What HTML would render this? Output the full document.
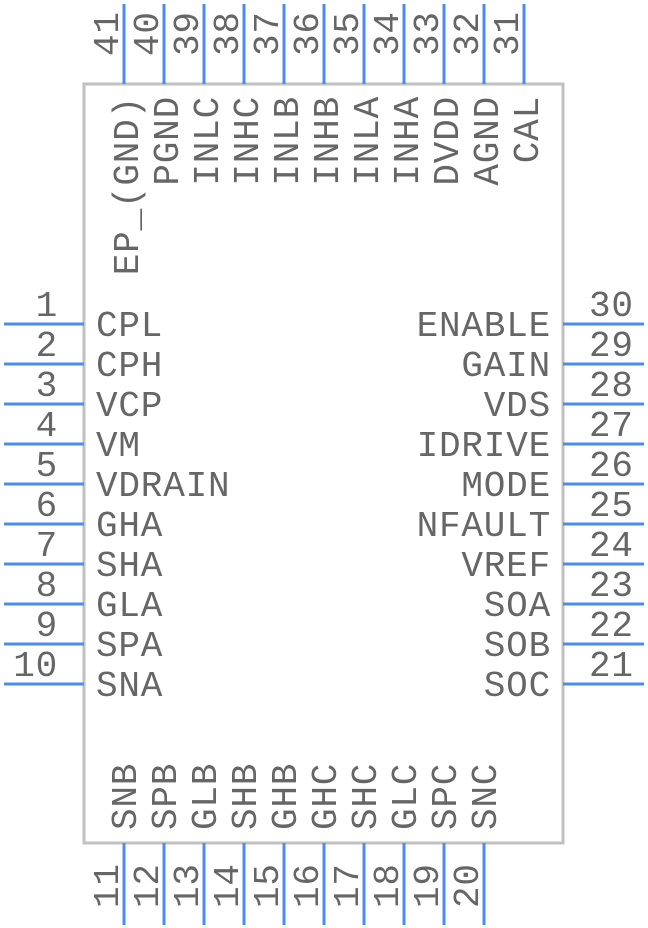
<!DOCTYPE html>
<html><head><style>
html,body{margin:0;padding:0;background:#fff;}
svg{display:block;}
text{font-family:"Liberation Mono",monospace;font-size:36px;letter-spacing:0.8px;fill:#666;}
</style></head><body>
<svg width="648" height="928" viewBox="0 0 648 928" xmlns="http://www.w3.org/2000/svg">
<rect x="84" y="84" width="479" height="759" fill="none" stroke="#c0c0c0" stroke-width="3"/>
<g stroke="#4a8cf5" stroke-width="3">
<line x1="4" y1="324" x2="84" y2="324"/><line x1="4" y1="364" x2="84" y2="364"/><line x1="4" y1="404" x2="84" y2="404"/><line x1="4" y1="444" x2="84" y2="444"/><line x1="4" y1="484" x2="84" y2="484"/><line x1="4" y1="524" x2="84" y2="524"/><line x1="4" y1="564" x2="84" y2="564"/><line x1="4" y1="604" x2="84" y2="604"/><line x1="4" y1="644" x2="84" y2="644"/><line x1="4" y1="684" x2="84" y2="684"/>
<line x1="563" y1="324" x2="644" y2="324"/><line x1="563" y1="364" x2="644" y2="364"/><line x1="563" y1="404" x2="644" y2="404"/><line x1="563" y1="444" x2="644" y2="444"/><line x1="563" y1="484" x2="644" y2="484"/><line x1="563" y1="524" x2="644" y2="524"/><line x1="563" y1="564" x2="644" y2="564"/><line x1="563" y1="604" x2="644" y2="604"/><line x1="563" y1="644" x2="644" y2="644"/><line x1="563" y1="684" x2="644" y2="684"/>
<line x1="124" y1="4" x2="124" y2="84"/><line x1="164" y1="4" x2="164" y2="84"/><line x1="204" y1="4" x2="204" y2="84"/><line x1="244" y1="4" x2="244" y2="84"/><line x1="284" y1="4" x2="284" y2="84"/><line x1="324" y1="4" x2="324" y2="84"/><line x1="364" y1="4" x2="364" y2="84"/><line x1="404" y1="4" x2="404" y2="84"/><line x1="444" y1="4" x2="444" y2="84"/><line x1="484" y1="4" x2="484" y2="84"/><line x1="524" y1="4" x2="524" y2="84"/>
<line x1="124" y1="843" x2="124" y2="925"/><line x1="164" y1="843" x2="164" y2="925"/><line x1="204" y1="843" x2="204" y2="925"/><line x1="244" y1="843" x2="244" y2="925"/><line x1="284" y1="843" x2="284" y2="925"/><line x1="324" y1="843" x2="324" y2="925"/><line x1="364" y1="843" x2="364" y2="925"/><line x1="404" y1="843" x2="404" y2="925"/><line x1="444" y1="843" x2="444" y2="925"/><line x1="484" y1="843" x2="484" y2="925"/>
</g>
<g text-anchor="end">
<text x="58" y="316">1</text><text x="58" y="356">2</text><text x="58" y="396">3</text><text x="58" y="436">4</text><text x="58" y="476">5</text><text x="58" y="516">6</text><text x="58" y="556">7</text><text x="58" y="596">8</text><text x="58" y="636">9</text><text x="58" y="676">10</text>
<text x="551" y="336">ENABLE</text><text x="551" y="376">GAIN</text><text x="551" y="416">VDS</text><text x="551" y="456">IDRIVE</text><text x="551" y="496">MODE</text><text x="551" y="536">NFAULT</text><text x="551" y="576">VREF</text><text x="551" y="616">SOA</text><text x="551" y="656">SOB</text><text x="551" y="696">SOC</text>
</g>
<g>
<text x="96" y="336">CPL</text><text x="96" y="376">CPH</text><text x="96" y="416">VCP</text><text x="96" y="456">VM</text><text x="96" y="496">VDRAIN</text><text x="96" y="536">GHA</text><text x="96" y="576">SHA</text><text x="96" y="616">GLA</text><text x="96" y="656">SPA</text><text x="96" y="696">SNA</text>
<text x="589" y="316">30</text><text x="589" y="356">29</text><text x="589" y="396">28</text><text x="589" y="436">27</text><text x="589" y="476">26</text><text x="589" y="516">25</text><text x="589" y="556">24</text><text x="589" y="596">23</text><text x="589" y="636">22</text><text x="589" y="676">21</text>
</g>
<g>
<text transform="translate(118,56) rotate(-90)">41</text>
<text transform="translate(158,56) rotate(-90)">40</text>
<text transform="translate(198,56) rotate(-90)">39</text>
<text transform="translate(238,56) rotate(-90)">38</text>
<text transform="translate(278,56) rotate(-90)">37</text>
<text transform="translate(318,56) rotate(-90)">36</text>
<text transform="translate(358,56) rotate(-90)">35</text>
<text transform="translate(398,56) rotate(-90)">34</text>
<text transform="translate(438,56) rotate(-90)">33</text>
<text transform="translate(478,56) rotate(-90)">32</text>
<text transform="translate(518,56) rotate(-90)">31</text>
</g>
<g text-anchor="end">
<text transform="translate(138,96) rotate(-90)">EP_(GND)</text>
<text transform="translate(178,96) rotate(-90)">PGND</text>
<text transform="translate(218,96) rotate(-90)">INLC</text>
<text transform="translate(258,96) rotate(-90)">INHC</text>
<text transform="translate(298,96) rotate(-90)">INLB</text>
<text transform="translate(338,96) rotate(-90)">INHB</text>
<text transform="translate(378,96) rotate(-90)">INLA</text>
<text transform="translate(418,96) rotate(-90)">INHA</text>
<text transform="translate(458,96) rotate(-90)">DVDD</text>
<text transform="translate(498,96) rotate(-90)">AGND</text>
<text transform="translate(538,96) rotate(-90)">CAL</text>
</g>
<g>
<text transform="translate(136,830) rotate(-90)">SNB</text>
<text transform="translate(176,830) rotate(-90)">SPB</text>
<text transform="translate(216,830) rotate(-90)">GLB</text>
<text transform="translate(256,830) rotate(-90)">SHB</text>
<text transform="translate(296,830) rotate(-90)">GHB</text>
<text transform="translate(336,830) rotate(-90)">GHC</text>
<text transform="translate(376,830) rotate(-90)">SHC</text>
<text transform="translate(416,830) rotate(-90)">GLC</text>
<text transform="translate(456,830) rotate(-90)">SPC</text>
<text transform="translate(496,830) rotate(-90)">SNC</text>
<text transform="translate(118,908) rotate(-90)">11</text>
<text transform="translate(158,908) rotate(-90)">12</text>
<text transform="translate(198,908) rotate(-90)">13</text>
<text transform="translate(238,908) rotate(-90)">14</text>
<text transform="translate(278,908) rotate(-90)">15</text>
<text transform="translate(318,908) rotate(-90)">16</text>
<text transform="translate(358,908) rotate(-90)">17</text>
<text transform="translate(398,908) rotate(-90)">18</text>
<text transform="translate(438,908) rotate(-90)">19</text>
<text transform="translate(478,908) rotate(-90)">20</text>
</g>
</svg>
</body></html>
